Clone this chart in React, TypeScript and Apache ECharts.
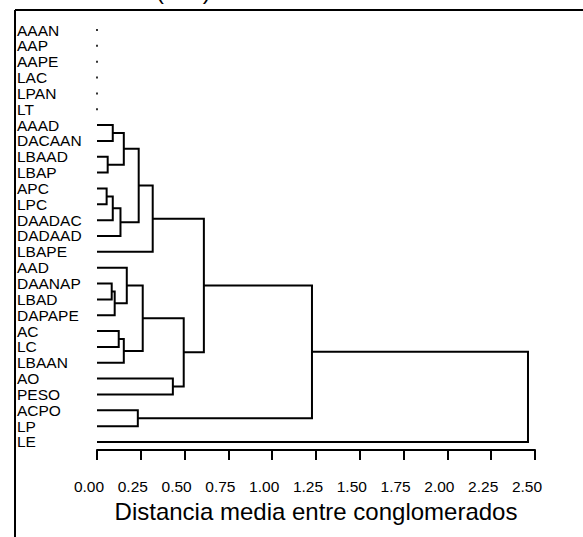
import React, { useEffect, useRef } from "react";
import * as echarts from "echarts";

const leaves = [
  "AAAN", "AAP", "AAPE", "LAC", "LPAN", "LT", "AAAD", "DACAAN", "LBAAD", "LBAP",
  "APC", "LPC", "DAADAC", "DADAAD", "LBAPE", "AAD", "DAANAP", "LBAD", "DAPAPE",
  "AC", "LC", "LBAAN", "AO", "PESO", "ACPO", "LP", "LE",
];
// leaves that are not joined (drawn as dots at distance 0)
const isolated = [0, 1, 2, 3, 4, 5];
// merges: child A, child B (indices >= leaves.length refer to earlier merges)
const mergeA = [6, 8, 27, 10, 30, 31, 29, 33, 16, 35, 15, 19, 38, 37, 22, 40, 34, 24, 43, 45];
const mergeB = [7, 9, 28, 11, 12, 13, 32, 14, 17, 18, 36, 20, 21, 39, 23, 41, 42, 25, 44, 26];
const mergeHeight = [
  0.09, 0.061, 0.153, 0.055, 0.09, 0.134, 0.238, 0.318, 0.084, 0.101,
  0.17, 0.124, 0.153, 0.261, 0.433, 0.495, 0.61, 0.233, 1.227, 2.46,
];
const xTicks = [0, 0.25, 0.5, 0.75, 1.0, 1.25, 1.5, 1.75, 2.0, 2.25, 2.5];
const xTitle = "Distancia media entre conglomerados";
const topTitle = "(ave)";

export default function App() {
  const ref = useRef<HTMLDivElement>(null);
  useEffect(() => {
    if (!ref.current) return;
    const chart = echarts.init(ref.current, undefined, { renderer: "svg" });
    const n = leaves.length;
    const nodeH: number[] = [];
    const nodeY: number[] = [];
    for (let i = 0; i < n; i++) {
      nodeH.push(0);
      nodeY.push(i);
    }
    const links: number[][] = [];
    for (let k = 0; k < mergeA.length; k++) {
      const a = mergeA[k];
      const b = mergeB[k];
      const h = mergeHeight[k];
      links.push([nodeH[a], nodeY[a], h, nodeY[b], nodeH[b]]);
      nodeH.push(h);
      nodeY.push((nodeY[a] + nodeY[b]) / 2);
    }
    const spacing = 15.846;
    const firstY = 30;
    const gridTop = firstY - spacing / 2;
    const gridHeight = spacing * n;
    const font = "'Liberation Sans', Arial, sans-serif";
    chart.setOption({
      animation: false,
      grid: { left: 97, width: 438, top: gridTop, height: gridHeight, containLabel: false },
      xAxis: {
        type: "value",
        min: 0,
        max: 2.5,
        interval: 0.25,
        splitLine: { show: false },
        axisLine: { show: true, onZero: false, lineStyle: { color: "#000", width: 2 } },
        axisTick: { show: true, length: 10, lineStyle: { color: "#000", width: 2 } },
        axisLabel: {
          margin: 29,
          color: "#000",
          fontSize: 15.5,
          fontFamily: font,
          padding: [0, 16, 0, 0],
          formatter: (v: number) => {
            const t = xTicks.find((x) => Math.abs(x - v) < 1e-6);
            return t === undefined ? "" : t.toFixed(2);
          },
        },
        name: xTitle,
        nameLocation: "middle",
        nameGap: 43,
        nameTextStyle: { color: "#000", fontSize: 24, fontFamily: font },
      },
      yAxis: [
        {
          type: "value",
          inverse: true,
          min: -0.5,
          max: n - 0.5,
          show: false,
        },
        {
          type: "category",
          inverse: true,
          data: leaves,
          position: "left",
          axisLine: { show: false },
          axisTick: { show: false },
          splitLine: { show: false },
          axisLabel: {
            interval: 0,
            align: "left",
            margin: 80,
            color: "#000",
            fontSize: 15.5,
            fontFamily: font,
            padding: [13, 0, 0, 0],
          },
        },
      ],
      graphic: [
        { type: "line", shape: { x1: 15, y1: 10, x2: 583, y2: 10 }, style: { stroke: "#000", lineWidth: 2 } },
        { type: "line", shape: { x1: 15, y1: 10, x2: 15, y2: 537 }, style: { stroke: "#000", lineWidth: 2 } },
        {
          type: "text",
          left: 156,
          top: -22,
          style: { text: topTitle, fontSize: 24, fontFamily: font, fill: "#000" },
        },
      ],
      series: [
        {
          type: "custom",
          yAxisIndex: 0,
          data: links,
          renderItem: (params: any, api: any) => {
            const p0 = api.coord([api.value(0), api.value(1)]);
            const p1 = api.coord([api.value(2), api.value(1)]);
            const p2 = api.coord([api.value(2), api.value(3)]);
            const p3 = api.coord([api.value(4), api.value(3)]);
            return {
              type: "polyline",
              shape: { points: [p0, p1, p2, p3] },
              style: { stroke: "#000", lineWidth: 2, fill: null },
            };
          },
          silent: true,
        },
        {
          type: "scatter",
          yAxisIndex: 0,
          data: isolated.map((i) => [0, i]),
          symbol: "rect",
          symbolSize: 2,
          itemStyle: { color: "#000" },
          silent: true,
        },
      ],
    });
    return () => chart.dispose();
  }, []);
  return <div ref={ref} style={{ width: 583, height: 537, position: "absolute", left: 0, top: 0 }} />;
}
